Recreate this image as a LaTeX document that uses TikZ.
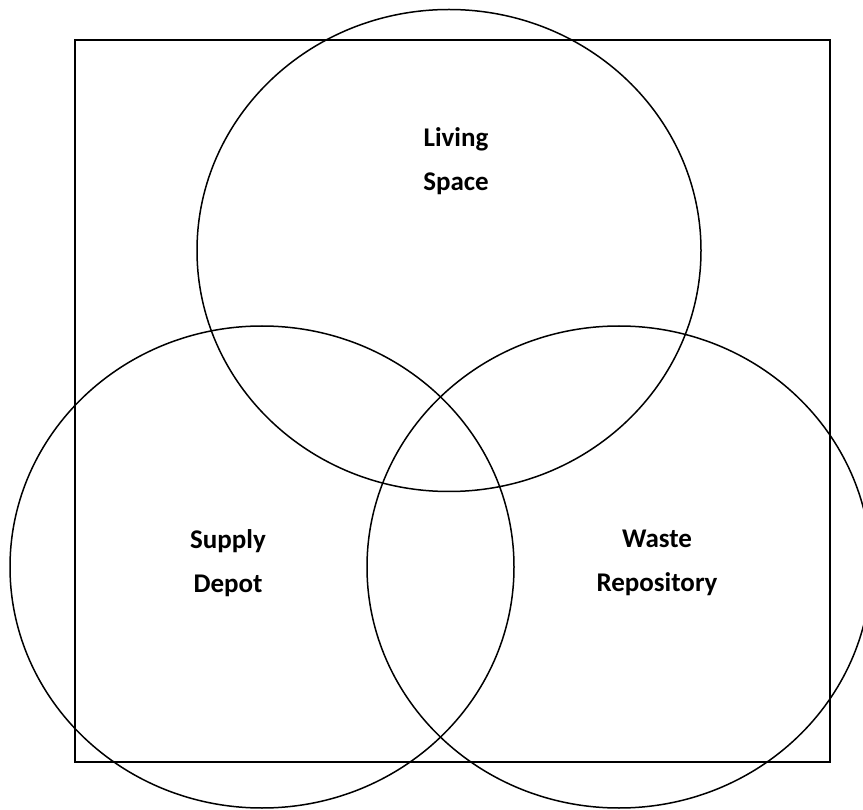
\documentclass[tikz,border=0pt]{standalone}
\usepackage{fontspec}
\setmainfont{Carlito}
\usetikzlibrary{shapes.geometric}
\tikzset{
  setcircle/.style={draw=black, line width=1.5pt, ellipse, minimum width=504pt, minimum height=482pt, inner sep=0pt},
  setlabel/.style={align=center, font=\bfseries\fontsize{27}{44}\selectfont, text=black},
  frame/.style={draw=black, line width=1.6pt}
}
\begin{document}
\begin{tikzpicture}[x=1pt,y=-1pt]
  \clip (0,0) rectangle (863,810);
  \fill[white] (0,0) rectangle (863,810);
  \node[frame, minimum width=755pt, minimum height=722pt, inner sep=0pt] (universe) at (452.5,401) {};
  \node[setcircle] (living) at (449,250.5) {};
  \node[setcircle] (supply) at (262,567) {};
  \node[setcircle] (waste) at (619,567) {};
  \node[setlabel] (livinglabel) at (456,161) {Living\\Space};
  \node[setlabel] (supplylabel) at (228,563) {Supply\\Depot};
  \node[setlabel] (wastelabel) at (657,563) {Waste\\Repository};
\end{tikzpicture}
\end{document}
